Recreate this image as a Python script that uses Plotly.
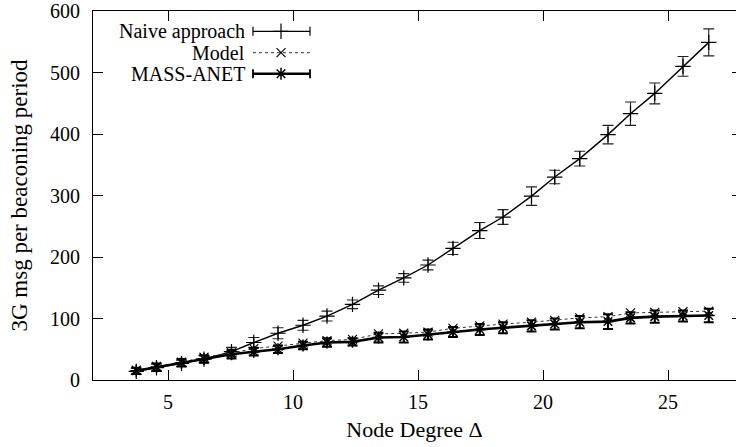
import plotly.graph_objects as go

# Node degree values at which the three methods were measured
degree = [3.73, 4.54, 5.54, 6.44, 7.54, 8.43, 9.40, 10.40, 11.36, 12.38, 13.42, 14.43,
          15.40, 16.40, 17.47, 18.40, 19.54, 20.47, 21.47, 22.60, 23.50, 24.47, 25.60, 26.63]

naive = [14, 20, 27, 34, 46, 61, 76, 89, 104, 123, 146, 166,
         187, 214, 243, 265, 299, 330, 360, 399, 433, 466, 510, 549]
naive_err = [5, 6, 5, 6, 7, 8, 9, 8, 8, 7, 7, 7,
             8, 10, 13, 12, 15, 11, 12, 15, 19, 17, 16, 22]

model = [16, 22, 29, 37, 44, 51, 55, 60, 64, 66, 75, 76,
         78, 84, 88, 91, 94, 97, 101, 103, 109, 110, 111, 112]

mass_anet = [15, 21, 28, 34, 42, 46, 50, 56, 61, 62, 69, 70,
             74, 78, 82, 85, 88, 91, 94, 95, 101, 103, 104, 105]
mass_err = [5, 6, 6, 6, 7, 6, 6, 6, 7, 6, 8, 9,
            8, 8, 9, 9, 9, 9, 10, 12, 9, 10, 9, 11]

series_names = ["Naive approach", "Model", "MASS-ANET"]
y_ticks = [0, 100, 200, 300, 400, 500, 600]
x_ticks = [5, 10, 15, 20, 25]

FONT = "Liberation Serif"
INK = "black"

fig = go.Figure()

fig.add_trace(go.Scatter(
    x=degree, y=naive, mode="lines+markers", name=series_names[0],
    line=dict(color=INK, width=1.4),
    marker=dict(symbol="cross-thin-open", size=11, color=INK, line=dict(color=INK, width=1.2)),
    error_y=dict(type="data", array=naive_err, visible=True, color="#222", thickness=1.1, width=5.5),
    showlegend=False,
))
fig.add_trace(go.Scatter(
    x=degree, y=model, mode="lines+markers", name=series_names[1],
    line=dict(color="#333", width=1, dash="dot"),
    marker=dict(symbol="x-thin-open", size=9, color=INK, line=dict(color=INK, width=1.1)),
    showlegend=False,
))
fig.add_trace(go.Scatter(
    x=degree, y=mass_anet, mode="lines+markers", name=series_names[2],
    line=dict(color=INK, width=2.6),
    marker=dict(symbol="asterisk-open", size=10, color=INK, line=dict(color=INK, width=1.5)),
    error_y=dict(type="data", array=mass_err, visible=True, color=INK, thickness=2, width=5),
    showlegend=False,
))

# Invisible trace that carries the right-hand tick axis
fig.add_trace(go.Scatter(x=[degree[0]], y=[0], yaxis="y2", mode="markers",
                         marker=dict(opacity=0), showlegend=False, hoverinfo="skip"))

# Key drawn on an overlay axis spanning the plot area (0..1 in both directions)
key_rows = [0.945, 0.887, 0.830]
key_x0, key_x1, key_xm = 0.2488, 0.3375, 0.2924
key_text_x = 0.2395
cap = 0.012


def key_line(y, width, dash=None, color=INK):
    fig.add_trace(go.Scatter(x=[key_x0, key_x1], y=[y, y], xaxis="x2", yaxis="y3",
                             mode="lines", line=dict(color=color, width=width, dash=dash),
                             showlegend=False, hoverinfo="skip"))


def key_caps(y, width):
    for xc in (key_x0, key_x1):
        fig.add_trace(go.Scatter(x=[xc, xc], y=[y - cap, y + cap], xaxis="x2", yaxis="y3",
                                 mode="lines", line=dict(color=INK, width=width),
                                 showlegend=False, hoverinfo="skip"))


def key_marker(y, symbol, size, lw):
    fig.add_trace(go.Scatter(x=[key_xm], y=[y], xaxis="x2", yaxis="y3", mode="markers",
                             marker=dict(symbol=symbol, size=size, color=INK,
                                         line=dict(color=INK, width=lw)),
                             showlegend=False, hoverinfo="skip"))


key_line(key_rows[0], 1.2)
key_caps(key_rows[0], 1.2)
key_marker(key_rows[0], "cross-thin-open", 11, 1.2)

key_line(key_rows[1], 1, "dot", "#333")
key_marker(key_rows[1], "x-thin-open", 9, 1.1)

key_line(key_rows[2], 2.4)
key_caps(key_rows[2], 1.8)
key_marker(key_rows[2], "asterisk-open", 10, 1.5)

for name, yk in zip(series_names, key_rows):
    fig.add_annotation(x=key_text_x, y=yk, xref="paper", yref="paper", text=name,
                       showarrow=False, xanchor="right", yanchor="middle",
                       font=dict(family=FONT, size=20, color=INK))

fig.update_layout(
    width=736, height=447,
    margin=dict(l=93, r=0, t=7, b=67),
    paper_bgcolor="white", plot_bgcolor="white",
    font=dict(family=FONT, size=20, color=INK),
    xaxis=dict(
        range=[2, 27.72], tickvals=x_ticks, ticks="inside", ticklen=10, tickwidth=1,
        tickcolor=INK, showline=True, linecolor=INK, linewidth=1, mirror="ticks",
        showgrid=False, zeroline=False, ticklabelstandoff=4,
        tickfont=dict(family=FONT, size=20, color=INK),
        title=dict(text="Node Degree Δ", font=dict(family=FONT, size=22, color=INK), standoff=9),
    ),
    yaxis=dict(
        range=[0, 600], tickvals=y_ticks, ticks="inside", ticklen=10, tickwidth=1,
        tickcolor=INK, showline=True, linecolor=INK, linewidth=1, mirror=False,
        showgrid=False, zeroline=False, ticklabelstandoff=8, ticklabeloverflow="allow",
        tickfont=dict(family=FONT, size=20, color=INK),
        title=dict(text="3G msg per beaconing period",
                   font=dict(family=FONT, size=23, color=INK), standoff=15),
    ),
    yaxis2=dict(
        range=[0, 600], tickvals=y_ticks, overlaying="y", side="right", anchor="x",
        ticks="inside", ticklen=4, tickwidth=1, tickcolor=INK, showticklabels=False,
        showline=False, showgrid=False, zeroline=False,
    ),
    xaxis2=dict(range=[0, 1], overlaying="x", anchor="y3", visible=False, fixedrange=True),
    yaxis3=dict(range=[0, 1], overlaying="y", anchor="x2", visible=False, fixedrange=True),
    showlegend=False,
)

fig.write_html("out.html")
